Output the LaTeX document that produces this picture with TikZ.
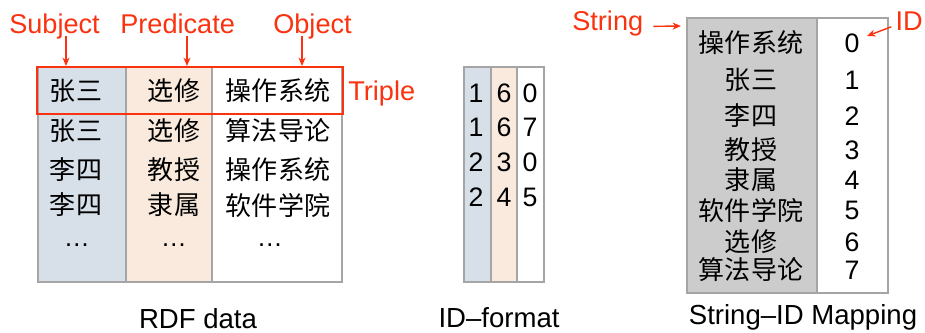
\documentclass[tikz,border=0pt]{standalone}
\usepackage{fontspec}
\setmainfont{Liberation Sans}
\newfontfamily\cjk{Noto Sans CJK SC}
\usetikzlibrary{arrows.meta}
\definecolor{hilite}{RGB}{250,50,15}
\definecolor{subjfill}{RGB}{215,223,232}
\definecolor{predfill}{RGB}{250,234,221}
\definecolor{strfill}{RGB}{204,204,204}
\definecolor{framegray}{RGB}{165,165,165}
\begin{document}
\begin{tikzpicture}[x=0.025cm,y=-0.025cm,
tag/.style ={text=hilite, font=\fontsize{19.3}{23}\selectfont,
  inner sep=0, text height=0.72em, text depth=0.2em
},
cell/.style ={font=\cjk\fontsize{18.5}{22}\selectfont, inner sep=0},
num/.style ={font=\fontsize{19}{22}\selectfont, inner sep=0},
caption/.style ={font=\fontsize{19.6}{23}\selectfont, inner sep=0, anchor=base},
arr/.style ={draw=hilite, line width=1pt, -{Stealth[length=6pt,width=5pt]}},
frame/.style ={draw=framegray, line width=0.9pt}]
\useasboundingbox (0,0) rectangle (925,332);

% RDF data table
\filldraw[frame, fill=subjfill] (38,67) rectangle (126,282);
\filldraw[frame, fill=predfill] (126,67) rectangle (212,282);
\draw[frame] (212,67) rectangle (342,282);
\draw[hilite, line width=1.4pt] (37,67) rectangle (343,114);

\node (s1) at (76,91) [cell] {张三};
\node (p1) at (174,91) [cell] {选修};
\node (o1) at (278,91) [cell] {操作系统};
\node (s2) at (76,131) [cell] {张三};
\node (p2) at (174,131) [cell] {选修};
\node (o2) at (278,131) [cell] {算法导论};
\node (s3) at (76,170) [cell] {李四};
\node (p3) at (174,170) [cell] {教授};
\node (o3) at (278,170) [cell] {操作系统};
\node (s4) at (76,205) [cell] {李四};
\node (p4) at (174,205) [cell] {隶属};
\node (o4) at (278,205) [cell] {软件学院};
\node (s5) at (77,246) [cell, font=\fontsize{18.5}{22}\selectfont, anchor=base] {\dots};
\node (p5) at (174,246) [cell, font=\fontsize{18.5}{22}\selectfont, anchor=base] {\dots};
\node (o5) at (270,246) [cell, font=\fontsize{18.5}{22}\selectfont, anchor=base] {\dots};

\node (subj) at (9,33) [tag, anchor=base west] {Subject};
\node (pred) at (120,33) [tag, anchor=base west] {Predicate};
\node (obj) at (273,33) [tag, anchor=base west] {Object};
\node (triple) at (348,100) [tag, anchor=base west] {Triple};
\coordinate (subjtip) at (66,66);
\coordinate (predtip) at (187,66);
\coordinate (objtip) at (302,66);
\draw[arr] (subj.south -| subjtip) -- (subjtip);
\draw[arr] (pred.south -| predtip) -- (predtip);
\draw[arr] (obj.south -| objtip) -- (objtip);

\node (rdfcap) at (198,328) [caption] {RDF data};

% ID-format table
\filldraw[frame, fill=subjfill] (464,67) rectangle (491,282);
\filldraw[frame, fill=predfill] (491,67) rectangle (517,282);
\draw[frame] (517,67) rectangle (544,282);
\foreach \s/\p/\o/\y [count=\i] in {1/6/0/93, 1/6/7/127, 2/3/0/162, 2/4/5/197} {
  \node (ids\i) at (476,\y) [num] {\s};
  \node (idp\i) at (504,\y) [num] {\p};
  \node (ido\i) at (530,\y) [num] {\o};
}
\node (idcap) at (499,327) [caption] {ID–format};

% String-ID mapping
\filldraw[frame, fill=strfill] (687,18) rectangle (817,293);
\draw[frame] (817,18) rectangle (888,293);
\foreach \str/\y [count=\i from 0] in {操作系统/43, 张三/80, 李四/116, 教授/150,
    隶属/180, 软件学院/210, 选修/242, 算法导论/270} {
  \node (str\i) at (751,\y) [cell] {\str};
  \node (id\i) at (852,\y) [num] {\i};
}
\node (strtag) at (572,30) [tag, anchor=base west] {String};
\node (idtag) at (923,30) [tag, anchor=base east] {ID};
\coordinate (strtip) at (681,26);
\coordinate (idtip) at (867,36);
\draw[arr] ([xshift=0.25cm]strtag.east) -- (strtip);
\draw[arr] ([xshift=-0.1cm,yshift=0.08cm]idtag.base west) -- (idtip);

\node (mapcap) at (803,324) [caption] {String–ID Mapping};
\end{tikzpicture}
\end{document}
